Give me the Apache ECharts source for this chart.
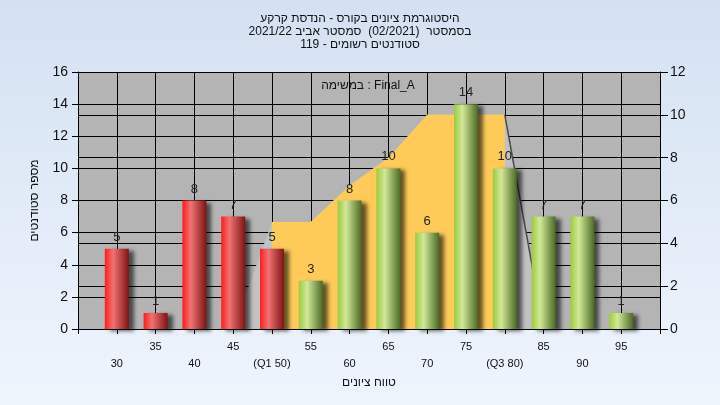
<!DOCTYPE html>
<html><head><meta charset="utf-8">
<script src="https://cdn.jsdelivr.net/npm/echarts@6/dist/echarts.min.js"></script>
<style>html,body{margin:0;padding:0;}#c{width:720px;height:405px;}</style>
</head><body><div id="c"></div>
<script>
// ---- data ----
const grades = [30,35,40,45,50,55,60,65,70,75,80,85,90,95];
const counts = [5,1,8,7,5,3,8,10,6,14,10,7,7,1];
const xLabels = ['30','35','40','45','(Q1 50)','55','60','65','70','75','(Q3 80)','85','90','95'];
const curveX = [45,50,55,60,65,70,75,80,85];
const curveY = [0,5,5,6.7,8,10,10,10,0];
const q1 = 50, q3 = 80;
const failCutoff = 50;
const titleLines = ['היסטוגרמת ציונים בקורס - הנדסת קרקע','בסמסטר  (02/2021)  סמסטר אביב 2021/22','סטודנטים רשומים - 119'];
const taskText = 'במשימה : Final_A';
const xName = 'טווח ציונים';
const yName = 'מספר סטודנטים';

const FONT = "'Liberation Sans','DejaVu Sans',Arial,sans-serif";
const textStyle = {fontFamily:FONT,fontSize:12,color:'#111'};

const chart = echarts.init(document.getElementById('c'));

const redGrad = new echarts.graphic.LinearGradient(0,0,1,0,[
  {offset:0,color:'#ff1c1c'},{offset:0.35,color:'#f07272'},{offset:1,color:'#7e1414'}]);
const greenGrad = new echarts.graphic.LinearGradient(0,0,1,0,[
  {offset:0,color:'#9ccb40'},{offset:0.35,color:'#d2e898'},{offset:1,color:'#4a6a24'}]);

const barData = grades.map((g,i)=>({value:[g,counts[i]], itemStyle:{color: g<=failCutoff?redGrad:greenGrad}}));
const allCurve = curveX.map((x,i)=>[x,curveY[i]]);
const midCurve = allCurve.filter(p=>p[0]>=q1 && p[0]<=q3);
const tailCurve = allCurve.filter(p=>p[0]>=q3);

chart.setOption({
  backgroundColor: new echarts.graphic.LinearGradient(0,0,0,1,[
    {offset:0,color:'#d4e1f2'},{offset:1,color:'#eff5fd'}]),
  animation:false,
  title:{
    text: titleLines.join('\n'),
    left:'center', top:7,
    textStyle:Object.assign({fontWeight:'normal',lineHeight:13},textStyle)
  },
  graphic:[{type:'text', x:368, y:86, z:10,
    style:{text:taskText, fill:'#111', font:'12px '+FONT, textAlign:'center', textVerticalAlign:'middle'}}],
  grid:{left:78,right:60,top:72,bottom:76,show:true,backgroundColor:'#b4b4b4',borderWidth:0},
  xAxis:{
    type:'value', min:25, max:100, interval:5,
    name: xName, nameLocation:'middle', nameGap:46,
    nameTextStyle:textStyle,
    axisLine:{show:true,lineStyle:{color:'#000'}},
    axisTick:{show:true,length:5,lineStyle:{color:'#000'}},
    splitLine:{show:true,lineStyle:{color:'#000',width:1}},
    axisLabel:{
      margin:9, fontFamily:FONT, fontSize:11, color:'#111', lineHeight:17,
      formatter:function(v){
        const i = grades.indexOf(v);
        if(i<0) return '';
        return (i%2===0 ? '\n' : '') + xLabels[i];
      }
    }
  },
  yAxis:[{
    type:'value', min:0, max:16, interval:2, position:'left',
    name: yName, nameLocation:'middle', nameGap:37,
    nameTextStyle:textStyle,
    axisLine:{show:true,lineStyle:{color:'#000'}},
    axisTick:{show:true,length:6,lineStyle:{color:'#000'}},
    splitLine:{show:true,lineStyle:{color:'#000',width:1}},
    axisLabel:{margin:10,fontFamily:FONT,fontSize:14,color:'#111'}
  },{
    type:'value', min:0, max:12, interval:2, position:'right',
    axisLine:{show:true,lineStyle:{color:'#000'}},
    axisTick:{show:true,length:8,lineStyle:{color:'#000'}},
    splitLine:{show:true,lineStyle:{color:'#000',width:1}},
    axisLabel:{margin:10,fontFamily:FONT,fontSize:14,color:'#111'}
  }],
  series:[
    {type:'line', yAxisIndex:1, data:allCurve, symbol:'none', silent:true, z:1,
     lineStyle:{width:0,opacity:0}, areaStyle:{color:'#c2c2c2',opacity:1}},
    {type:'line', yAxisIndex:1, data:midCurve, symbol:'none', silent:true, z:1,
     lineStyle:{width:0,opacity:0}, areaStyle:{color:'#fecb59',opacity:1}},
    {type:'line', yAxisIndex:1, data:tailCurve, symbol:'none', silent:true, z:1,
     lineStyle:{width:1.5,color:'#4a4a4a'}},
    {type:'bar', yAxisIndex:0, data:barData, barWidth:24, z:5,
     itemStyle:{shadowColor:'rgba(0,0,0,0.6)',shadowBlur:4,shadowOffsetX:5,shadowOffsetY:2},
     label:{show:true,position:'top',distance:5,fontFamily:FONT,fontSize:13,color:'#222',
       formatter:p=>p.value[1]}}
  ]
});
</script></body></html>
